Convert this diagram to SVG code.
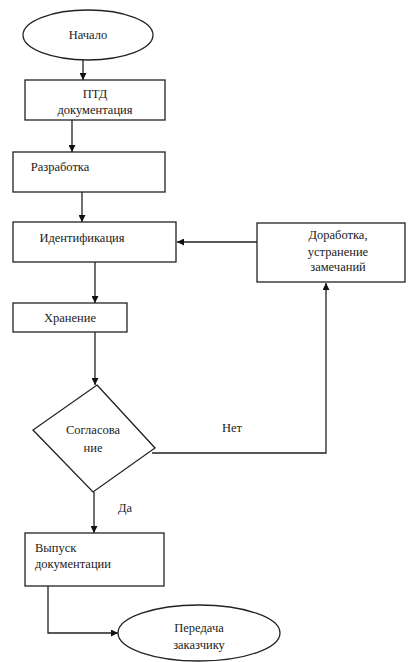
<svg xmlns="http://www.w3.org/2000/svg" width="409" height="662" viewBox="0 0 409 662" font-family="'Liberation Serif', 'DejaVu Serif', 'Times New Roman', serif">
<defs>
<marker id="ah" viewBox="0 0 10 10" refX="10" refY="5" markerWidth="7" markerHeight="7" orient="auto" markerUnits="userSpaceOnUse">
<path d="M0,0 L10,5 L0,10 z" fill="#111"/>
</marker>
<style>
.s{fill:#fff;stroke:#222;stroke-width:1.3}
.t{font-family:'Liberation Serif','DejaVu Serif','Times New Roman',serif;font-size:12.5px;fill:#222;text-anchor:middle}
.l{text-anchor:start}
.c{fill:none;stroke:#222;stroke-width:1.3}
</style>
</defs>
<rect width="409" height="662" fill="#fff"/>
<g id="connectors">
<path class="c" d="M83,60 V80" marker-end="url(#ah)"/>
<path class="c" d="M72,120 V152" marker-end="url(#ah)"/>
<path class="c" d="M82,192 V222" marker-end="url(#ah)"/>
<path class="c" d="M257,242 H177" marker-end="url(#ah)"/>
<path class="c" d="M95,262 V303" marker-end="url(#ah)"/>
<path class="c" d="M95,332 V385" marker-end="url(#ah)"/>
<path class="c" d="M152,453 H326 V283" marker-end="url(#ah)"/>
<path class="c" d="M94,492 V533" marker-end="url(#ah)"/>
<path class="c" d="M48,586 V633 H118" marker-end="url(#ah)"/>
<text class="t" x="232" y="432">Нет</text>
<text class="t" x="125" y="512">Да</text>
</g>
<g id="start">
<ellipse class="s" cx="88" cy="35" rx="65" ry="25"/>
<text class="t" x="88" y="39">Начало</text>
</g>
<g id="ptd">
<rect class="s" x="25" y="80" width="140" height="40"/>
<text class="t" x="95" y="98">ПТД</text>
<text class="t" x="95" y="114">документация</text>
</g>
<g id="dev">
<rect class="s" x="13" y="152" width="152" height="40"/>
<text class="t" x="60" y="171">Разработка</text>
</g>
<g id="ident">
<rect class="s" x="13" y="222" width="163" height="40"/>
<text class="t" x="82" y="242">Идентификация</text>
</g>
<g id="rework">
<rect class="s" x="257" y="223" width="148" height="59"/>
<text class="t" x="338" y="239">Доработка,</text>
<text class="t" x="338" y="256">устранение</text>
<text class="t" x="338" y="271">замечаний</text>
</g>
<g id="store">
<rect class="s" x="13" y="303" width="114" height="29"/>
<text class="t" x="70" y="322">Хранение</text>
</g>
<g id="approve">
<polygon class="s" points="97,385 155,448 93,492 33,430"/>
<text class="t" x="93" y="434">Согласова</text>
<text class="t" x="93" y="452">ние</text>
</g>
<g id="release">
<rect class="s" x="25" y="533" width="139" height="53"/>
<text class="t l" x="35" y="552">Выпуск</text>
<text class="t l" x="35" y="568">документации</text>
</g>
<g id="deliver">
<ellipse class="s" cx="199" cy="633" rx="81" ry="28"/>
<text class="t" x="199" y="632">Передача</text>
<text class="t" x="199" y="649">заказчику</text>
</g>
</svg>
